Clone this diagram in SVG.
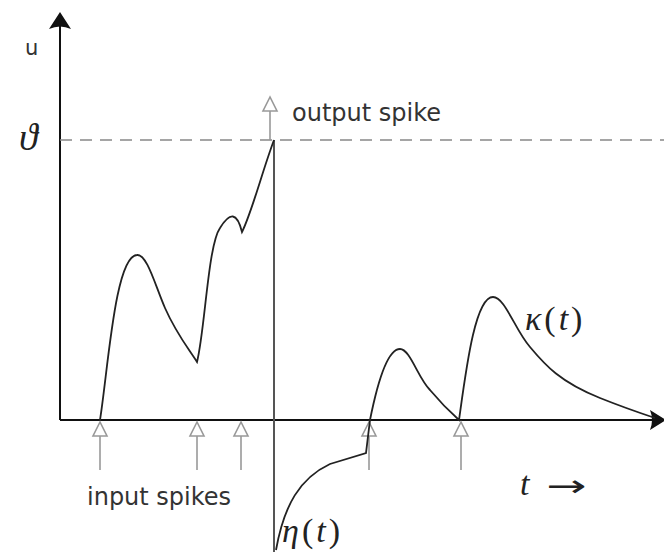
<svg xmlns="http://www.w3.org/2000/svg" width="664" height="552" viewBox="0 0 664 552">
<style>
.ax{stroke:#111;stroke-width:2;fill:none}
.cv{stroke:#222;stroke-width:1.8;fill:none}
.sp{stroke:#999;stroke-width:1.6;fill:none}
.hd{stroke:#999;stroke-width:1.6;fill:#fff}
.sans{font-family:"DejaVu Sans","Liberation Sans",sans-serif;fill:#333}
.math{font-family:"Liberation Serif",serif;font-style:italic;fill:#222}
</style>
<defs>
<path id="ih" d="M0,0 L-7,14 L7,14 Z"/>
</defs>
<g id="connectors">
<line class="ax" x1="60" y1="420" x2="60" y2="20"/>
<path d="M60,12 L49,29 Q60,24 71,29 Z" fill="#111"/>
<line class="ax" x1="60" y1="420" x2="656" y2="420"/>
<path d="M666,420 L650,410 Q654,420 650,430 Z" fill="#111"/>
<line x1="60" y1="140" x2="664" y2="140" stroke="#888" stroke-width="1.5" stroke-dasharray="12,8"/>
<line x1="274" y1="140" x2="274" y2="552" stroke="#555" stroke-width="2"/>
<line class="sp" x1="270" y1="110" x2="270" y2="140"/>
<use href="#ih" class="hd" x="270" y="97"/>
<g>
<line class="sp" x1="100" y1="436" x2="100" y2="470"/><use href="#ih" class="hd" x="100" y="422"/>
<line class="sp" x1="197" y1="436" x2="197" y2="470"/><use href="#ih" class="hd" x="197" y="422"/>
<line class="sp" x1="241" y1="436" x2="241" y2="470"/><use href="#ih" class="hd" x="241" y="422"/>
<line class="sp" x1="369" y1="436" x2="369" y2="470"/><use href="#ih" class="hd" x="369" y="422"/>
<line class="sp" x1="461" y1="436" x2="461" y2="470"/><use href="#ih" class="hd" x="461" y="422"/>
</g>
<path class="cv" d="M100,420 C108,370 115,256 137,255 C147,254 155,285 165,308 C176,333 188,348 197,362 C205,330 208,245 220,228 C230,212 237,212 242,232 C252,212 262,172 274,140"/>
<path class="cv" d="M276,550 C284,505 300,478 330,464 L366,453 L370,420 C378,380 388,349 400,349 C410,349 418,378 430,390 C440,402 450,412 459,420 C466,370 475,297 493,297 C505,297 515,330 530,347 C545,365 560,382 600,398 C625,408 640,413 655,418"/>
</g>
<g id="labels">
<text class="sans" x="25" y="55" font-size="21">u</text>
<text class="math" x="19" y="150" font-size="38">ϑ</text>
<text class="sans" x="292" y="121" font-size="24">output spike</text>
<text class="sans" x="87" y="505" font-size="24">input spikes</text>
<text class="math" x="525" y="330" font-size="34" letter-spacing="3"><tspan>κ</tspan><tspan font-style="normal">(</tspan>t<tspan font-style="normal">)</tspan></text>
<text class="math" x="520" y="495" font-size="34">t</text>
<text font-family="DejaVu Sans,sans-serif" font-size="30" fill="#222" transform="translate(546,496) scale(1.6,1)">→</text>
<text class="math" x="282" y="542" font-size="34" letter-spacing="3"><tspan>η</tspan><tspan font-style="normal">(</tspan>t<tspan font-style="normal">)</tspan></text>
</g>
</svg>
